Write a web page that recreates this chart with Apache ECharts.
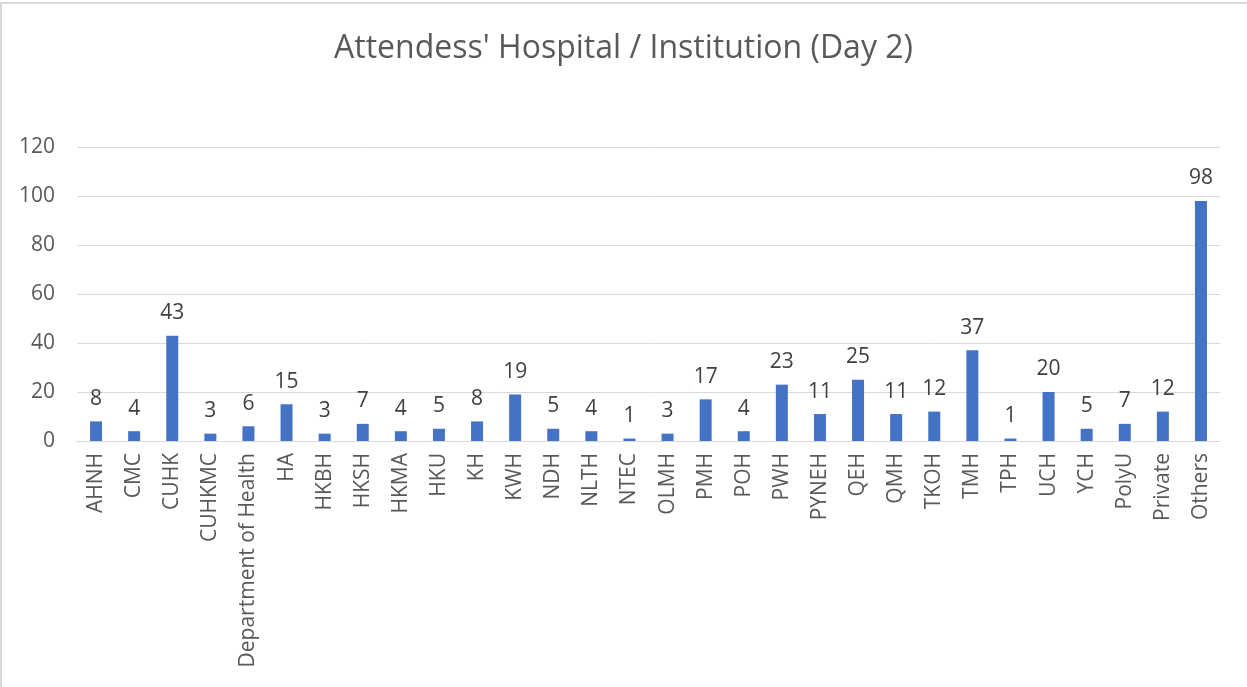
<!DOCTYPE html>
<html>
<head>
<meta charset="utf-8">
<script src="https://cdn.jsdelivr.net/npm/echarts@6/dist/echarts.min.js"></script>
<style>
  html, body { margin: 0; padding: 0; background: #fff; }
  #chart { width: 1247px; height: 687px; }
  #frame { position: absolute; left: 0; top: 2px; width: 1246px; height: 690px;
           border-top: 2px solid #d9d9d9; border-left: 2px solid #d9d9d9; pointer-events: none; }
</style>
</head>
<body>
<div id="chart"></div>
<div id="frame"></div>
<script>
// ===== Data =====
const categories = ['AHNH','CMC','CUHK','CUHKMC','Department of Health','HA','HKBH','HKSH','HKMA','HKU',
  'KH','KWH','NDH','NLTH','NTEC','OLMH','PMH','POH','PWH','PYNEH',
  'QEH','QMH','TKOH','TMH','TPH','UCH','YCH','PolyU','Private','Others'];
const attendees = [8,4,43,3,6,15,3,7,4,5,
  8,19,5,4,1,3,17,4,23,11,
  25,11,12,37,1,20,5,7,12,98];
const yTicks = [0, 20, 40, 60, 80, 100, 120];

const font = '"Open Sans", "Liberation Sans", sans-serif';
const chart = echarts.init(document.getElementById('chart'));
chart.setOption({
  animation: false,
  title: {
    text: "Attendess' Hospital / Institution (Day 2)",
    left: 'center', top: 28,
    textStyle: { fontFamily: font, fontSize: 32, fontWeight: 'normal', color: '#595959' }
  },
  grid: { left: 77, right: 27, top: 147, bottom: 246, containLabel: false },
  xAxis: {
    type: 'category',
    data: categories,
    axisLine: { lineStyle: { color: '#d9d9d9', width: 1 } },
    axisTick: { show: false },
    axisLabel: { rotate: 90, interval: 0, margin: 12, fontFamily: font, fontSize: 21, color: '#595959' }
  },
  yAxis: {
    type: 'value',
    min: yTicks[0], max: yTicks[yTicks.length - 1], interval: 20,
    axisLine: { show: false },
    axisTick: { show: false },
    splitLine: { lineStyle: { color: '#d9d9d9', width: 1 } },
    axisLabel: { margin: 22, fontFamily: font, fontSize: 21, color: '#595959' }
  },
  series: [{
    type: 'bar',
    data: attendees,
    barWidth: 12,
    itemStyle: { color: '#4472C4' },
    label: { show: true, position: 'top', distance: 12, fontFamily: font, fontSize: 21, color: '#404040' }
  }]
});
</script>
</body>
</html>
